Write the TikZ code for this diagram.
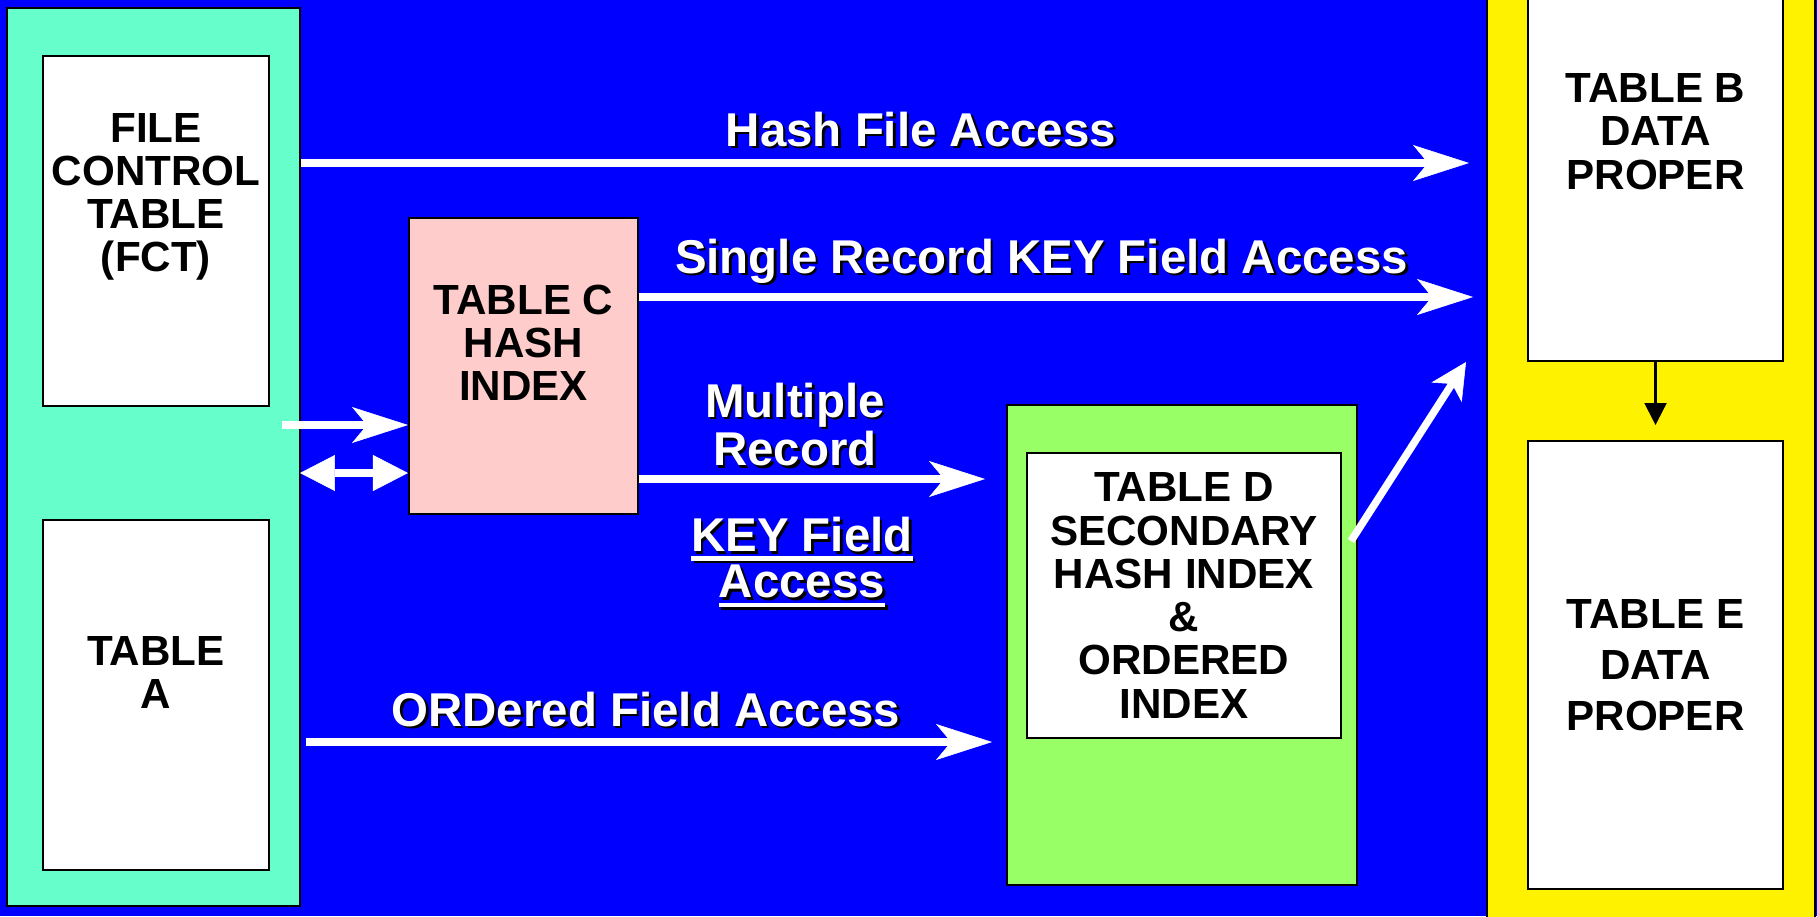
\documentclass[tikz,border=0pt]{standalone}
\usepackage{fontspec}
\setmainfont{Liberation Sans}
\usetikzlibrary{arrows.meta}
\definecolor{bgblue}{HTML}{0000FF}
\definecolor{mint}{HTML}{66FFCC}
\definecolor{rose}{HTML}{FFCCCC}
\definecolor{lime}{HTML}{99FF66}
\newcommand\shd[1]{\leavevmode\rlap{\kern1.4pt\raisebox{-1.4pt}{\color{black}#1}}{\color{white}#1}}
\newcommand\ulin[1]{\setbox0\hbox{#1}\rlap{\vrule width\wd0 height -2.8pt depth 5.4pt}\box0}

\begin{document}
\begin{tikzpicture}[x=0.02cm, y=-0.02cm,
  panel/.style={draw=black, line width=1.2pt, inner sep=0pt},
  tbl/.style={draw=black, fill=white, line width=1.2pt, inner sep=0pt},
  boxtxt/.style={font=\bfseries\fontsize{24}{24.6}\selectfont, align=center, inner sep=0pt},
  lbl/.style={font=\bfseries\fontsize{27}{25}\selectfont, align=center, inner sep=0pt},
  wa/.style={draw=white, line width=0.15cm,
    -{Stealth[length=1.12cm, width=0.72cm, inset=0.3cm, line width=0.3pt]}},
  wd/.style={draw=white, line width=0.16cm,
    {Triangle[length=0.7cm, width=0.72cm, line width=0.3pt]}-{Triangle[length=0.7cm, width=0.72cm, line width=0.3pt]}},
  ba/.style={draw=black, line width=1.2pt, -{Triangle[length=0.44cm, width=0.44cm]}}]
\useasboundingbox (0,0) rectangle (1817,916);
\clip (0,0) rectangle (1817,916);
\fill[bgblue] (0,0) rectangle (1817,916);

\node[panel, fill=mint, minimum width=5.86cm, minimum height=17.96cm] (teal) at (153.5,457) {};
\node[tbl, minimum width=4.52cm, minimum height=7cm,
  label={[boxtxt, yshift=0.68cm]center:{FILE\\CONTROL\\TABLE\\(FCT)}}] (fct) at (156,231) {};
\node[tbl, minimum width=4.52cm, minimum height=7cm,
  label={[boxtxt, yshift=0.45cm]center:{TABLE\\A}}] (ta) at (156,695) {};
\node[tbl, fill=rose, minimum width=4.58cm, minimum height=5.92cm,
  label={[boxtxt, yshift=0.46cm]center:{TABLE C\\HASH\\INDEX}}] (tc) at (523.5,366) {};
\node[panel, fill=lime, minimum width=7cm, minimum height=9.6cm] (grn) at (1182,645) {};
\node[tbl, boxtxt, minimum width=6.28cm, minimum height=5.7cm] (td) at (1184,595.5)
  {TABLE D\\SECONDARY\\HASH INDEX\\\&\\ORDERED\\INDEX};
\node[panel, fill=yellow, minimum width=6.56cm, minimum height=18.72cm] (yel) at (1651,458) {};
\node[tbl, minimum width=5.1cm, minimum height=7.42cm,
  label={[boxtxt, yshift=0.88cm]center:{TABLE B\\DATA\\PROPER}}] (tb) at (1655.5,175.5) {};
\node[tbl, boxtxt, font=\bfseries\fontsize{24}{28.9}\selectfont,
  minimum width=5.1cm, minimum height=8.96cm] (te) at (1655.5,665) {TABLE E\\DATA\\PROPER};

\node[lbl, anchor=base] (hfalbl) at (921,146) {\shd{Hash File Access}};
\node[lbl, anchor=base] (srlbl) at (1041.5,273) {\shd{Single Record KEY Field Access}};
\node[lbl] (mrlbl) at (795,425.7) {\shd{Multiple}\\\shd{Record}};
\node[lbl] (kflbl) at (802,563.5) {\shd{\ulin{KEY Field}}\\\shd{\ulin{Access}}};
\node[lbl, anchor=base] (oflbl) at (646,726) {\shd{ORDered Field Access}};

\coordinate (hfaend) at (1469,163);
\coordinate (srend) at (1473,297);
\coordinate (cin) at (282,425);
\coordinate (dbl) at (300,473);
\coordinate (mrend) at (985,479);
\coordinate (ofstart) at (306,742);
\coordinate (ofend) at (992,742);
\coordinate (dgstart) at (1351,541);
\coordinate (dgend) at (1466,362);
\coordinate (tbend) at (1655.5,425);

\draw[wa] (teal.east |- hfaend) -- (hfaend);
\draw[wa] (tc.east |- srend) -- (srend);
\draw[wa] (cin) -- (tc.west |- cin);
\draw[wd] (dbl) -- (tc.west |- dbl);
\draw[wa] (tc.east |- mrend) -- (mrend);
\draw[wa] (ofstart) -- (ofend);
\draw[wa, -{Stealth[length=0.72cm, width=0.72cm, inset=0.2cm, line width=0.3pt]}] (dgstart) -- (dgend);
\draw[ba] (tb.south) -- (tbend);
\end{tikzpicture}
\end{document}
